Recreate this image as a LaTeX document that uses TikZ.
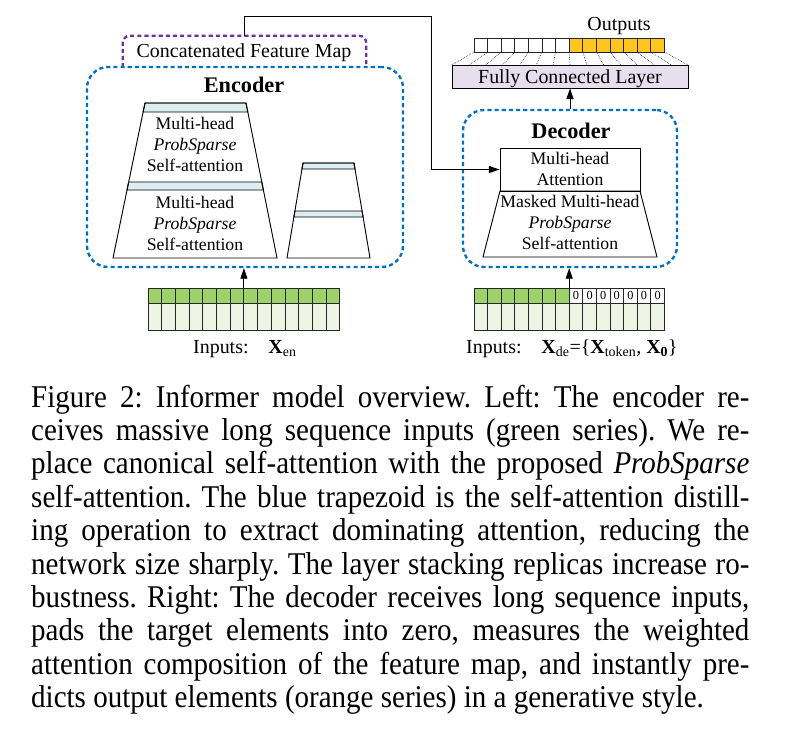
\documentclass[tikz,border=0pt]{standalone}
\usepackage{fontspec}
\setmainfont{Liberation Serif}
\newfontfamily\capfont[FakeStretch=0.917]{Liberation Serif}
\usetikzlibrary{arrows.meta,fit}

\definecolor{encblue}{HTML}{0070C0}
\definecolor{cfmpurple}{HTML}{7030A0}
\definecolor{ingreen}{HTML}{9DD26B}
\definecolor{inpale}{HTML}{EEF5E4}
\definecolor{outorange}{HTML}{FFC520}
\definecolor{fclilac}{HTML}{E6E0EE}
\definecolor{barblue}{HTML}{DCEEF2}

\tikzset{
  lbl/.style={inner sep=0pt, font=\fontsize{17pt}{20pt}\selectfont},
  attn/.style={inner sep=0pt, align=center, font=\fontsize{15.1pt}{17.9pt}\selectfont},
  boxtitle/.style={inner sep=0pt, anchor=base, font=\fontsize{19pt}{22pt}\selectfont\bfseries},
  zero/.style={inner sep=0pt, font=\fontsize{10.5pt}{12pt}\selectfont},
  dashbox/.style={draw=encblue, line width=2pt, dash pattern=on 3.5pt off 2.6pt, rounded corners=18pt},
  cfmline/.style={draw=cfmpurple, line width=2pt, dash pattern=on 3.5pt off 2.6pt, rounded corners=6pt},
  cell/.style={draw=black!85, line width=0.8pt},
  fan/.style={densely dotted, line width=0.5pt},
  arr/.style={-{Triangle[length=9pt,width=6pt]}, line width=0.8pt},
  captext/.style={inner sep=0pt, anchor=base west, font=\capfont\fontsize{27pt}{30pt}\selectfont\frenchspacing},
}

\begin{document}
\begin{tikzpicture}[x=0.03cm,y=-0.03cm]
\useasboundingbox (0,0) rectangle (798,744);

% feature map and the two blocks
\node[fit={(123,36) (366,67)}, inner sep=0pt] (cfm) {};
\draw[cfmline] (cfm.south west) -- (cfm.north west) -- (cfm.north east) -- (cfm.south east);
\node[lbl, anchor=base] (cfmlbl) at (244,57) {Concatenated Feature Map};
\node[fit={(87,67) (403,267)}, inner sep=0pt, dashbox] (enc) {};
\node[fit={(463,110) (677,267)}, inner sep=0pt, dashbox] (dec) {};
\node[boxtitle] (enctitle) at (244,92) {Encoder};
\node[boxtitle] (dectitle) at (571,138) {Decoder};

% encoder stack
\draw[fill=barblue, line width=0.8pt] (145,103) -- (246,103) -- (247.8,112) -- (143.1,112) -- cycle;
\draw[fill=barblue, line width=0.8pt] (128.7,182) -- (261.8,182) -- (263.4,190) -- (127,190) -- cycle;
\draw[line width=0.8pt] (145,103) -- (246,103) -- (277,258) -- (113,258) -- cycle;
\node[attn] (enc1) at (195,144.4) {Multi-head\\\textit{ProbSparse}\\Self-attention};
\node[attn] (enc2) at (195,223) {Multi-head\\\textit{ProbSparse}\\Self-attention};

% distilled replica
\draw[fill=barblue, line width=0.8pt] (303,163) -- (354,163) -- (355,169) -- (302,169) -- cycle;
\draw[fill=barblue, line width=0.8pt] (294.9,211) -- (362.1,211) -- (363.1,217) -- (293.9,217) -- cycle;
\draw[line width=0.8pt] (303,163) -- (354,163) -- (370,258) -- (287,258) -- cycle;

% decoder stack
\node[fit={(500,148) (640,191)}, inner sep=0pt, draw, line width=0.8pt] (mha) {};
\draw[line width=0.8pt] (500,191) -- (640,191) -- (657,257) -- (483,257) -- cycle;
\node[attn] (dec1) at (570,169.4) {Multi-head\\Attention};
\node[attn] (dec2) at (570,222.4) {Masked Multi-head\\\textit{ProbSparse}\\Self-attention};

% outputs
\node[fit={(452,65) (688,88)}, inner sep=0pt, draw, line width=0.8pt, fill=fclilac] (fc) {};
\node[lbl, anchor=base] (fclbl) at (570,83) {Fully Connected Layer};
\foreach \i in {0,...,6}
  \draw[cell, fill=white] ({474+13.6*\i},38) rectangle ++(13.6,14);
\foreach \i in {7,...,13}
  \draw[cell, fill=outorange] ({474+13.6*\i},38) rectangle ++(13.6,14);
\node[fit={(474,38) (664.4,52)}, inner sep=0pt] (outrow) {};
\foreach \i in {0,...,14}
  \draw[fan] ({474+13.6*\i},52) -- ({452+236/14*\i},65);
\node[lbl, anchor=base] (outlbl) at (619,30) {Outputs};

% encoder inputs
\foreach \i in {0,...,13} {
  \draw[cell, fill=ingreen] ({148+13.7*\i},288) rectangle ++(13.7,15);
  \draw[cell, fill=inpale] ({148+13.7*\i},303) rectangle ++(13.7,27);
}
\node[fit={(148,288) (339.8,330)}, inner sep=0pt] (encin) {};
\node[lbl, anchor=base west] (enclbl) at (193,353) {Inputs:\quad\textbf{X}\textsubscript{en}};

% decoder inputs
\foreach \i in {0,...,13}
  \draw[cell, fill=inpale] ({474+13.6*\i},303) rectangle ++(13.6,27);
\foreach \i in {0,...,6}
  \draw[cell, fill=ingreen] ({474+13.6*\i},288) rectangle ++(13.6,15);
\foreach \i in {7,...,13} {
  \draw[cell, fill=white] ({474+13.6*\i},288) rectangle ++(13.6,15);
  \node[zero] (z\i) at ({480.8+13.6*\i},295.5) {0};
}
\node[fit={(474,288) (664.4,330)}, inner sep=0pt] (decin) {};
\node[lbl, anchor=base west] (declbl) at (466,353)
  {Inputs:\quad\textbf{X}\textsubscript{de}=\{\textbf{X}\textsubscript{token}, \textbf{X}\textsubscript{\textbf{0}}\}};

% connections
\draw[arr] (encin.north) -- (encin.north |- enc.south);
\draw[arr] (decin.north) -- (decin.north |- dec.south);
\draw[arr] (dec.north) -- (fc.south);
\coordinate (turn) at (431,16);
\draw[arr] (cfm.north) |- (turn) |- (mha.west);

% caption
\foreach \capl [count=\i] in {
  {Figure 2: Informer model overview. Left: The encoder re-},
  {ceives massive long sequence inputs (green series). We re-},
  {place canonical self-attention with the proposed \textit{ProbSparse}},
  {self-attention. The blue trapezoid is the self-attention distill-},
  {ing operation to extract dominating attention, reducing the},
  {network size sharply. The layer stacking replicas increase ro-},
  {bustness. Right: The decoder receives long sequence inputs,},
  {pads the target elements into zero, measures the weighted},
  {attention composition of the feature map, and instantly pre-}}
  \node[captext] (cap\i) at (31,{407+33.4*(\i-1)}) {\makebox[613pt][s]{\capl}};
\node[captext] (cap10) at (31,{407+33.4*9}) {dicts output elements (orange series) in a generative style.};
\end{tikzpicture}
\end{document}
